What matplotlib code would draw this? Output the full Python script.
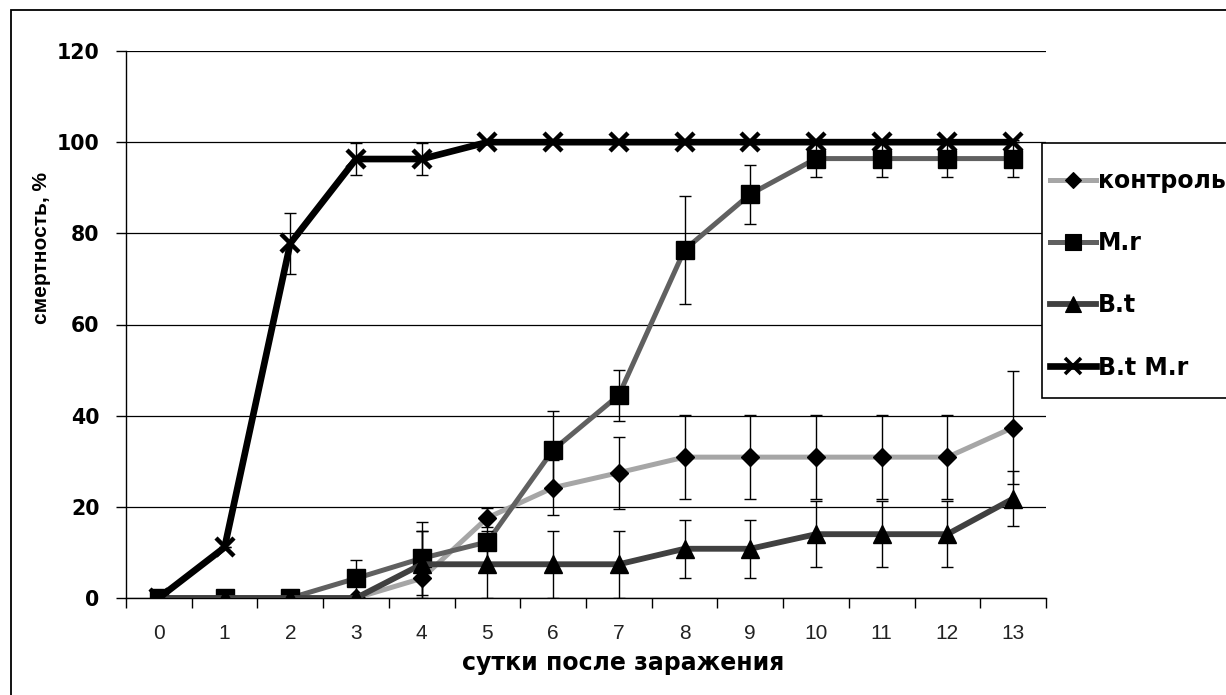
import matplotlib
matplotlib.use("Agg")
import matplotlib.pyplot as plt
from matplotlib.lines import Line2D
from matplotlib.patches import Rectangle
from matplotlib.ticker import FixedLocator, NullFormatter


W, H = 1226, 695

days = list(range(14))
day_labels = [str(d) for d in days]

series_names = ["контроль", "M.r", "B.t", "B.t M.r"]

control = [0, 0, 0, 0, 4.3, 17.6, 24.2, 27.5, 30.9, 30.9, 30.9, 30.9, 30.9, 37.4]
control_err = [0, 0, 0, 0, 10.5, 2.1, 6.1, 7.9, 9.2, 9.2, 9.2, 9.2, 9.2, 12.5]

mr = [0, 0, 0, 4.3, 8.7, 12.3, 32.5, 44.5, 76.4, 88.6, 96.4, 96.4, 96.4, 96.4]
mr_err = [0, 0, 0, 4.0, 8.0, 5.0, 8.5, 5.6, 11.8, 6.5, 4.0, 4.0, 4.0, 4.0]

bt = [0, 0, 0, 0, 7.4, 7.4, 7.4, 7.4, 10.8, 10.8, 14.0, 14.0, 14.0, 21.8]
bt_err = [0, 0, 0, 0, 7.4, 7.4, 7.4, 7.4, 6.4, 6.4, 7.3, 7.3, 7.3, 6.1]

btmr = [0, 11.1, 77.8, 96.3, 96.3, 100, 100, 100, 100, 100, 100, 100, 100, 100]
btmr_err = [0, 0, 6.7, 3.6, 3.6, 0, 0, 0, 0, 0, 0, 0, 0, 0]

y_ticks = [0, 20, 40, 60, 80, 100, 120]

styles = [
    dict(color="#a6a6a6", lw=3.6, marker="D", ms=9.2, mew=1.0),
    dict(color="#606060", lw=3.6, marker="s", ms=13, mew=1.0),
    dict(color="#404040", lw=4.2, marker="^", ms=13, mew=1.0),
    dict(color="#000000", lw=4.8, marker="x", ms=13, mew=3.2),
]


def px_x(x):
    return x / W


def px_y(y):
    return 1 - y / H


fig = plt.figure(figsize=(W / 100, H / 100), dpi=100)
ax = fig.add_axes([px_x(126), px_y(598), px_x(1046) - px_x(126), px_y(51) - px_y(598)])

data = [(control, control_err), (mr, mr_err), (bt, bt_err), (btmr, btmr_err)]
handles = []
for i, ((vals, errs), st) in enumerate(zip(data, styles)):
    ax.errorbar(days, vals, yerr=errs, fmt="none", ecolor="black",
                elinewidth=1.0, capsize=4.5, capthick=1.0, zorder=2 + i * 2)
    ax.plot(days, vals, color=st["color"], lw=st["lw"], marker=st["marker"],
            ms=st["ms"], mfc="black", mec="black", mew=st["mew"],
            solid_joinstyle="round", zorder=3 + i * 2)
    handles.append(Line2D([], [], color=st["color"], lw=st["lw"], marker=st["marker"],
                          ms=st["ms"] * 0.9, mfc="black", mec="black", mew=st["mew"] * 0.8))

ax.set_xlim(-0.5, 13.5)
ax.set_ylim(0, 120)

ax.xaxis.set_major_locator(FixedLocator(days))
ax.set_xticklabels(day_labels)
ax.xaxis.set_minor_locator(FixedLocator([d - 0.5 for d in days] + [13.5]))
ax.xaxis.set_minor_formatter(NullFormatter())
ax.tick_params(axis="x", which="major", length=0, pad=19, labelsize=15,
               labelcolor="#222222")
ax.tick_params(axis="x", which="minor", length=7, width=1.0, direction="out", color="black")
for lbl in ax.get_xticklabels():
    lbl.set_family("Liberation Sans")

ax.set_yticks(y_ticks)
ax.tick_params(axis="y", length=7, width=1.0, direction="out", pad=12, labelsize=14.8)
for lbl in ax.get_yticklabels():
    lbl.set_family("DejaVu Sans")
    lbl.set_fontweight("bold")

ax.grid(axis="y", color="black", lw=0.9)
ax.set_axisbelow(True)
for side in ("top", "right"):
    ax.spines[side].set_visible(False)
for side in ("left", "bottom"):
    ax.spines[side].set_linewidth(1.0)
    ax.spines[side].set_zorder(1.5)

ax.set_xlabel("сутки после заражения", family="DejaVu Sans", fontweight="bold",
              fontsize=17, va="center")
ax.xaxis.set_label_coords((623.5 - 126) / 920, (598 - 663) / 547)
ax.set_ylabel("смертность, %", family="Liberation Sans", fontweight="bold",
              fontsize=15, va="center")
ax.yaxis.set_label_coords((42 - 126) / 920, (598 - 248) / 547)

# chart border and legend box
fig.add_artist(Rectangle((px_x(11), -0.1), 1.2, px_y(10) + 0.1, transform=fig.transFigure,
                         fill=False, ec="black", lw=1.3))
fig.add_artist(Rectangle((px_x(1041.7), px_y(398)), 0.2, px_y(143.3) - px_y(398),
                         transform=fig.transFigure, fc="white", ec="black", lw=1.2))

fig.legend(handles, series_names, loc="upper left",
           bbox_to_anchor=(px_x(1038), px_y(157)), bbox_transform=fig.transFigure,
           frameon=False, borderpad=0, handlelength=1.95, handletextpad=0.1,
           labelspacing=1.62, prop={"family": "DejaVu Sans", "weight": "bold", "size": 17})

fig.savefig("out.png", dpi=100)
